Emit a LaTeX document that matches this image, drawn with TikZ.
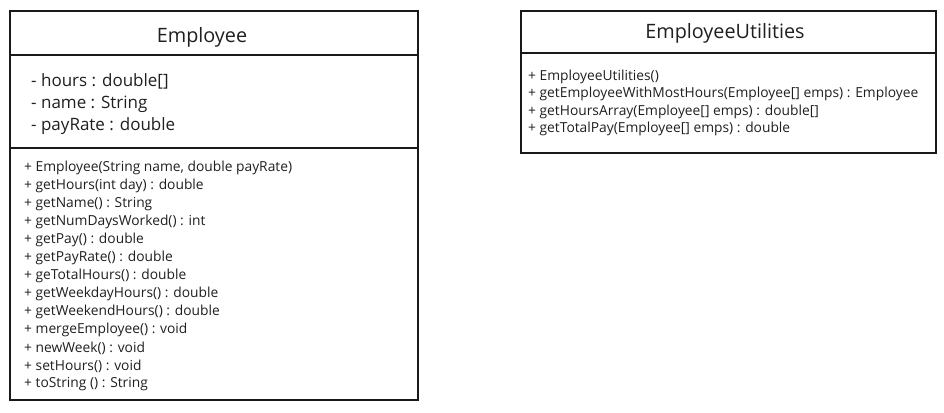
\documentclass[tikz,border=0pt]{standalone}
\usepackage{fontspec}
\setmainfont{Open Sans}
\begin{document}
\begin{tikzpicture}[x=1pt,y=-1pt,
  box/.style={draw=black!90, line width=1.3pt},
  title/.style={font=\fontsize{19.8}{22}\selectfont, text=black!88},
  attr/.style={anchor=west, inner sep=0pt, font=\fontsize{17}{19}\selectfont, text=black!88},
  meth/.style={anchor=west, inner sep=0pt, font=\fontsize{13.8}{15}\selectfont, text=black!88}]

\useasboundingbox (0,0) rectangle (944,412);

% draw Employee class
\draw[box] (10,11) coordinate (emp_nw) rectangle (418,400) coordinate (emp_se);
\draw[box] (10,55) coordinate (emp_a) -- (418,55);
\draw[box] (10,148) coordinate (emp_b) -- (418,148);
\node[title] (emp_title) at (202,37) {Employee};

\foreach \txt [count=\i from 0] in {{- hours : double[]}, {- name : String}, {- payRate : double}}
  \node[attr] (emp_attr\i) at (31,81.5+\i*22.5) {\txt};

\foreach \txt [count=\i from 0] in {{+ Employee(String name, double payRate)}, {+ getHours(int day) : double},
    {+ getName() : String}, {+ getNumDaysWorked() : int}, {+ getPay() : double},
    {+ getPayRate() : double}, {+ geTotalHours() : double}, {+ getWeekdayHours() : double},
    {+ getWeekendHours() : double}, {+ mergeEmployee() : void}, {+ newWeek() : void},
    {+ setHours() : void}, {+ toString () : String}}
  \node[meth] (emp_meth\i) at (24,168+\i*18) {\txt};

% draw EmployeeUtilities class
\draw[box] (521,11) coordinate (util_nw) rectangle (936,153) coordinate (util_se);
\draw[box] (521,53) coordinate (util_a) -- (936,53);
\node[title] (util_title) at (725,33) {EmployeeUtilities};

\foreach \txt [count=\i from 0] in {{+ EmployeeUtilities()}, {+ getEmployeeWithMostHours(Employee[] emps) : Employee},
    {+ getHoursArray(Employee[] emps) : double[]}, {+ getTotalPay(Employee[] emps) : double}}
  \node[meth] (util_meth\i) at (528,76.5+\i*17.6) {\txt};

\end{tikzpicture}
\end{document}
